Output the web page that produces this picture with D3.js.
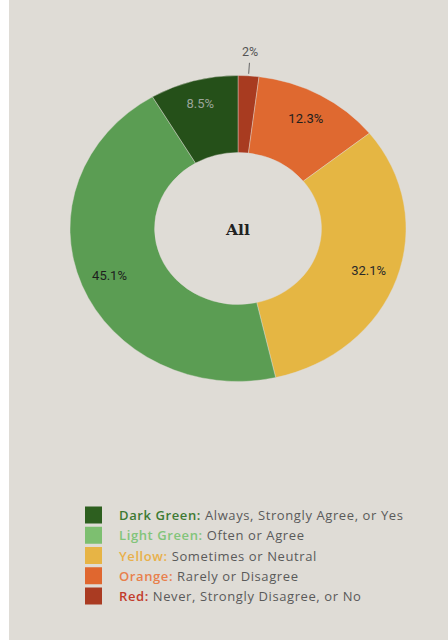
<!DOCTYPE html>
<html>
<head>
<meta charset="utf-8">
<script src="https://cdn.jsdelivr.net/npm/d3@7"></script>
<style>
  html, body { margin: 0; padding: 0; background: #ffffff; }
  svg { display: block; }
</style>
</head>
<body>
<svg id="chart" width="448" height="641"></svg>
<script>
// Response categories, clockwise from 12 o'clock
const categories = ["Red", "Orange", "Yellow", "Light Green", "Dark Green"];
const values = [2, 12.3, 32.1, 45.1, 8.5];
const valueLabels = ["2%", "12.3%", "32.1%", "45.1%", "8.5%"];
const sliceColors = ["#a83b20", "#df6930", "#e5b643", "#5b9d53", "#255019"];
const labelColors = ["#555555", "#1e1e1e", "#2a2a2a", "#1e1e1e", "#9ba59a"];

// Legend entries
const legendNames = ["Dark Green:", "Light Green:", "Yellow:", "Orange:", "Red:"];
const legendDescriptions = [
  "Always, Strongly Agree, or Yes",
  "Often or Agree",
  "Sometimes or Neutral",
  "Rarely or Disagree",
  "Never, Strongly Disagree, or No"
];
const legendSwatches = ["#2d5f1f", "#7dbf70", "#e7b445", "#e0672f", "#aa3b22"];
const legendNameColors = ["#3d7a33", "#82c47a", "#e9b04a", "#e8804c", "#c23b2b"];

const svg = d3.select("#chart");

// page background with narrow white margin on the left
svg.append("rect").attr("x", 0).attr("y", 0).attr("width", 448).attr("height", 641).attr("fill", "#ffffff");
svg.append("rect").attr("x", 9).attr("y", 0).attr("width", 439).attr("height", 640).attr("fill", "#dfdcd6");

const cx = 238, cy = 228.5;
const rOuter = 153, rInner = 76;
const sx = 1.098; // horizontal stretch of the ring

const pie = d3.pie().sort(null).value(d => d).startAngle(0).endAngle(2 * Math.PI);
const arcs = pie(values);
const arc = d3.arc().innerRadius(rInner).outerRadius(rOuter);

const ring = svg.append("g").attr("transform", `translate(${cx},${cy}) scale(${sx},1)`);
ring.selectAll("path")
  .data(arcs)
  .join("path")
  .attr("d", arc)
  .attr("fill", (d, i) => sliceColors[i])
  .attr("stroke", "#dfdcd6")
  .attr("stroke-width", 0.4);

// polar position in page coordinates
const pos = (a, r) => [cx + sx * r * Math.sin(a), cy - r * Math.cos(a)];

const labelR = 126;
arcs.forEach((d, i) => {
  const mid = (d.startAngle + d.endAngle) / 2;
  if (i === 0) {
    // small slice: label sits outside with a leader line
    const p1 = pos(mid, rOuter + 2), p2 = pos(mid, rOuter + 13), pt = pos(mid, rOuter + 24);
    svg.append("line")
      .attr("x1", p1[0]).attr("y1", p1[1]).attr("x2", p2[0]).attr("y2", p2[1])
      .attr("stroke", "#666").attr("stroke-width", 1);
    svg.append("text")
      .attr("x", pt[0]).attr("y", pt[1] - 0.5)
      .attr("text-anchor", "middle").attr("dominant-baseline", "central")
      .attr("font-family", "Roboto, sans-serif").attr("font-size", 12.5)
      .attr("fill", labelColors[i])
      .text(valueLabels[i]);
  } else {
    const r = i === 4 ? 130 : labelR;
    const p = pos(mid, r);
    svg.append("text")
      .attr("x", p[0]).attr("y", p[1])
      .attr("text-anchor", "middle").attr("dominant-baseline", "central")
      .attr("font-family", "Roboto, sans-serif").attr("font-size", 13)
      .attr("fill", labelColors[i])
      .text(valueLabels[i]);
  }
});

// centre title
svg.append("text")
  .attr("x", cx).attr("y", cy + 1)
  .attr("text-anchor", "middle").attr("dominant-baseline", "central")
  .attr("font-family", "'DejaVu Serif', serif").attr("font-weight", "bold")
  .attr("font-size", 15.5).attr("fill", "#222")
  .text("All");

// legend
const legend = svg.append("g");
const rowY = d3.scalePoint().domain(d3.range(legendNames.length)).range([515, 596]);
legendNames.forEach((name, i) => {
  const y = rowY(i);
  legend.append("rect")
    .attr("x", 85).attr("y", y - 8.5).attr("width", 17).attr("height", 17)
    .attr("fill", legendSwatches[i]);
  const t = legend.append("text")
    .attr("x", 119).attr("y", y)
    .attr("dominant-baseline", "central")
    .attr("font-family", "'Open Sans', sans-serif").attr("font-size", 13)
    .attr("letter-spacing", 0.6);
  t.append("tspan").attr("fill", legendNameColors[i]).attr("font-weight", 600).text(name);
  t.append("tspan").attr("fill", "#5a5a5a").text(" " + legendDescriptions[i]);
});
</script>
</body>
</html>
